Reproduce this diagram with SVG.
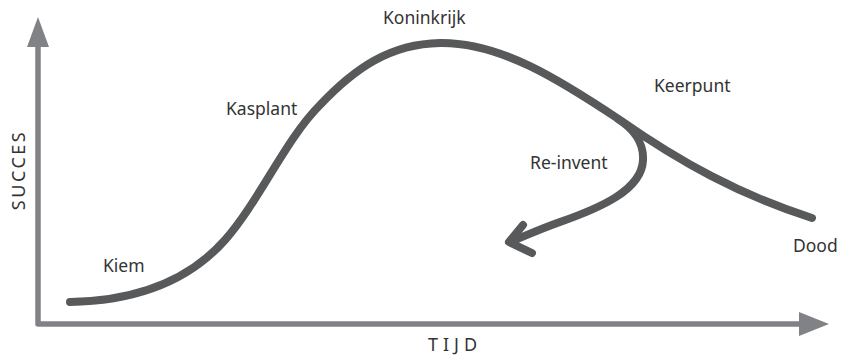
<svg xmlns="http://www.w3.org/2000/svg" width="841" height="356" viewBox="0 0 841 356">
<style>
.axis{fill:none;stroke:#818285;stroke-width:5.5;stroke-linejoin:round}
.head{fill:#818285}
.curve{fill:none;stroke:#58595b;stroke-width:8;stroke-linecap:round;stroke-linejoin:round}
.lbl{font-family:"Noto Sans","Open Sans",sans-serif;font-size:17.5px;fill:#333}
.ax{font-family:"Noto Sans","Open Sans",sans-serif;font-size:18px;fill:#333}
</style>
<g id="axes">
<polyline class="axis" points="38,45 38,324 802,324"/>
<polygon class="head" points="38,17 27,47 49,47"/>
<polygon class="head" points="829,324 799,312 799,336"/>
</g>
<g id="connectors">
<path id="main-curve" class="curve" d="M70,302 C130,301 185,285 225,240 C260,200 285,140 320,105 C355,68 390,44 440,43 C500,42 560,80 620,120 C680,162 740,195 812,218"/>
<path id="reinvent" class="curve" d="M618,119 C632,128 644,142 643,160 C642,190 600,208 560,222 C540,229 525,236 510,242 M523,225 L509,242 L532,253"/>
</g>
<g id="kiem"><text class="lbl" x="103" y="272">Kiem</text></g>
<g id="kasplant"><text class="lbl" x="226" y="115">Kasplant</text></g>
<g id="koninkrijk"><text class="lbl" x="383" y="24">Koninkrijk</text></g>
<g id="keerpunt"><text class="lbl" x="654" y="92">Keerpunt</text></g>
<g id="re-invent"><text class="lbl" x="530" y="169">Re-invent</text></g>
<g id="dood"><text class="lbl" x="793" y="252">Dood</text></g>
<g id="labels">
<text class="ax" x="455" y="351" text-anchor="middle" letter-spacing="5">TIJD</text>
<text class="ax" transform="translate(25,170) rotate(-90)" text-anchor="middle" letter-spacing="2.5">SUCCES</text>
</g>
</svg>
